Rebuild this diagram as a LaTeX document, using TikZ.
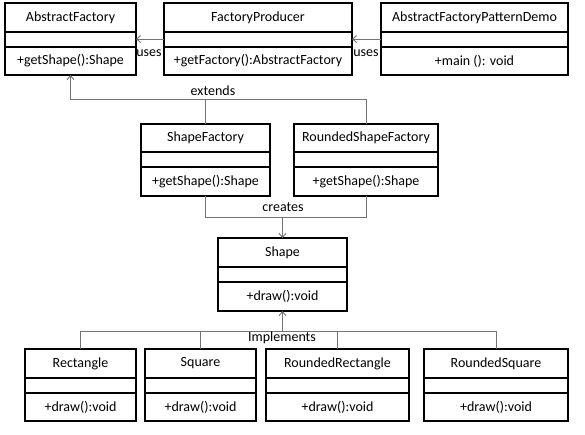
\documentclass[tikz,border=0pt]{standalone}
\usepackage{fontspec}
\setmainfont{Carlito}
\usetikzlibrary{arrows.meta}
\tikzset{
  box/.style={draw=black, line width=1.8pt, rectangle, inner sep=0pt, outer sep=0pt},
  divline/.style={draw=black, line width=1.8pt},
  txt/.style={inner sep=0pt, font=\fontsize{14}{16}\selectfont},
  lbl/.style={inner sep=0pt, font=\fontsize{14}{16}\selectfont},
  conn/.style={draw=black!55, line width=1pt},
  tip/.style={-{Straight Barb[length=4pt,width=7pt,line width=0.9pt]}}
}
% name, left, top, right, bottom, div1, div2, title, method
\newcommand{\umlcls}[9]{%
  \node[box, anchor=north west, minimum width={(#4-#2)*1pt}, minimum height={(#5-#3)*1pt}] (#1) at (#2,#3) {};
  \draw[divline] (#2,#6) -- (#4,#6);
  \draw[divline] (#2,#7) -- (#4,#7);
  \node[txt] (#1-t) at ({(#2+#4)/2},{(#3+#6)/2}) {#8};
  \node[txt] (#1-m) at ({(#2+#4)/2},{(#7+#5)/2}) {#9};
}
\begin{document}
\begin{tikzpicture}[x=1pt,y=-1pt]
\useasboundingbox (0,0) rectangle (585,434);
\umlcls{af}{5}{3}{136}{75}{32}{47}{AbstractFactory}{+getShape():Shape}
\umlcls{fp}{164}{3}{352}{75}{32}{47}{FactoryProducer}{+getFactory():AbstractFactory}
\umlcls{demo}{381}{3}{568}{75}{32}{47}{AbstractFactoryPatternDemo}{+main (): void}
\umlcls{sf}{141}{124}{270}{196}{152}{167}{ShapeFactory}{+getShape():Shape}
\umlcls{rsf}{294}{124}{438}{196}{152}{167}{RoundedShapeFactory}{+getShape():Shape}
\umlcls{shape}{218}{238}{347}{311}{267}{282}{Shape}{+draw():void}
\umlcls{rect}{25}{349}{136}{421}{378}{393}{Rectangle}{+draw():void}
\umlcls{sq}{145}{349}{256}{421}{378}{393}{Square}{+draw():void}
\umlcls{rr}{266}{349}{409}{421}{378}{393}{RoundedRectangle}{+draw():void}
\umlcls{rsq}{424}{349}{568}{421}{378}{393}{RoundedSquare}{+draw():void}

% uses
\draw[conn,tip] (fp.west) -- (af.east);
\node[lbl] (uses1) at (149,53) {uses};
\draw[conn,tip] (demo.west) -- (fp.east);
\node[lbl] (uses2) at (366,53) {uses};

% extends
\coordinate (ext) at (71,99);
\draw[conn] (sf.north) -- (sf.north |- ext);
\draw[conn,tip] (rsf.north) -- (rsf.north |- ext) -| (af.south);
\node[lbl] (extl) at (213,91) {extends};

% creates
\coordinate (cr) at (284,217);
\draw[conn] (sf.south) -- (sf.south |- cr) -- (rsf.south |- cr) -- (rsf.south);
\draw[conn,tip] (shape.north |- cr) -- (shape.north);
\node[lbl] (crl) at (283,207) {creates};

% implements
\coordinate (im) at (283,331);
\draw[conn] (rect.north) -- (rect.north |- im) -- (rsq.north |- im) -- (rsq.north);
\draw[conn] (sq.north) -- (sq.north |- im);
\draw[conn] (rr.north) -- (rr.north |- im);
\draw[conn,tip] (shape.south |- im) -- (shape.south);
\node[lbl] (iml) at (282,338) {Implements};
\end{tikzpicture}
\end{document}
